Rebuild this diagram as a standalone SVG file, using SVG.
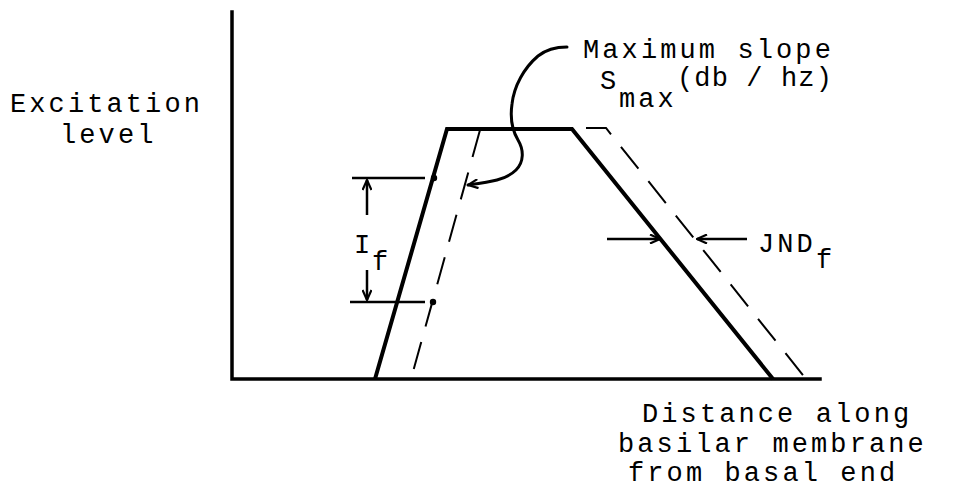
<svg xmlns="http://www.w3.org/2000/svg" width="954" height="495" viewBox="0 0 954 495">
<style>
text{font-family:"Liberation Mono","DejaVu Sans Mono",monospace;font-size:27px;letter-spacing:3.1px;fill:#000}
.ax{fill:none;stroke:#000;stroke-width:3.5;stroke-linecap:square}
.solid{fill:none;stroke:#000;stroke-width:4;stroke-linejoin:miter}
.dash{fill:none;stroke:#000;stroke-width:2;stroke-dasharray:28 16}
.ln{fill:none;stroke:#000;stroke-width:2.5}
.arr{fill:none;stroke:#000;stroke-width:2.5;marker-end:url(#ah)}
</style>
<defs>
<marker id="ah" viewBox="0 0 12 10" refX="11" refY="5" markerWidth="12" markerHeight="10" markerUnits="userSpaceOnUse" orient="auto">
<path d="M1 0.5 L11 5 L1 9.5" fill="none" stroke="#000" stroke-width="2.2"/>
</marker>
</defs>
<rect width="954" height="495" fill="#fff"/>
<g id="axes">
<path class="ax" d="M232 12 L232 379 L820 379"/>
</g>
<g id="excitation-curve">
<path class="solid" d="M375 379 L447 129 L572 129 L773 379"/>
</g>
<g id="shifted-curve">
<path class="dash" d="M480 130 L411 379"/>
<path class="dash" d="M586 128 L606 128 L806 379"/>
</g>
<g id="if-markers">
<path class="ln" d="M352 178 L425 178"/>
<path class="ln" d="M350 302 L425 302"/>
<circle cx="434" cy="178" r="3.2"/>
<circle cx="433" cy="302" r="3.2"/>
</g>
<g id="connectors">
<path class="arr" d="M367 215 L367 180"/>
<path class="arr" d="M367 270 L367 300"/>
<path class="arr" d="M607 239 L660 239"/>
<path class="arr" d="M747 239 L697 239"/>
<path fill="none" stroke="#000" stroke-width="3" stroke-linecap="round" d="M567 47 C558 47 548 48 538 56 C524 68 514 86 512 104 C510 118 512 130 518 140 C524 150 524 162 516 170 C506 180 490 182 468 185" marker-end="url(#ah)"/>
</g>
<g id="label-excitation">
<text x="10" y="112">Excitation</text>
<text x="60" y="143">level</text>
</g>
<g id="label-slope">
<text x="583" y="58">Maximum slope</text>
<text x="600" y="89">S</text>
<text x="619" y="107">max</text>
<text x="677" y="86" textLength="158" lengthAdjust="spacing">(db / hz)</text>
</g>
<g id="label-if">
<text x="354" y="253">I</text>
<text x="372" y="270">f</text>
</g>
<g id="label-jnd">
<text x="758" y="252">JND</text>
<text x="816" y="268">f</text>
</g>
<g id="label-distance">
<text x="642" y="422">Distance along</text>
<text x="618" y="452">basilar membrane</text>
<text x="628" y="481">from basal end</text>
</g>
</svg>
